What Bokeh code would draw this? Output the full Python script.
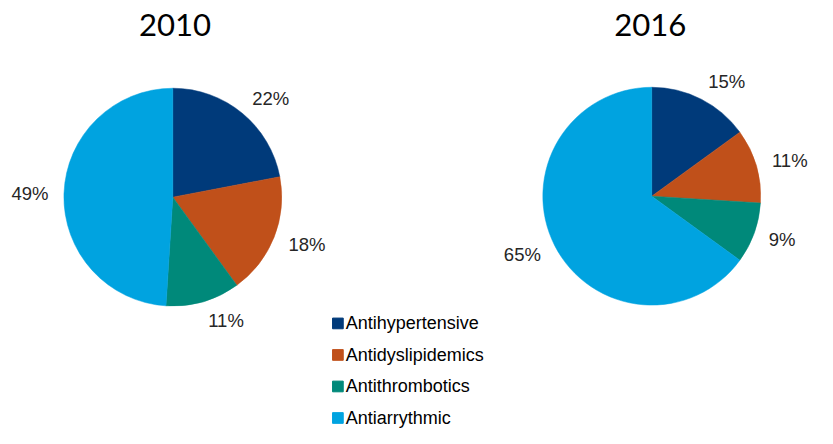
import numpy as np
from bokeh.plotting import figure
from bokeh.models import Range1d, ColumnDataSource
from bokeh.core.properties import value
from bokeh.embed import file_html
from bokeh.resources import INLINE

# ---- data ----
categories = ["Antihypertensive", "Antidyslipidemics", "Antithrombotics", "Antiarrythmic"]
years = ["2010", "2016"]
values_2010 = [22, 18, 11, 49]
values_2016 = [15, 11, 9, 65]

colors = ["#003A7A", "#C0501A", "#00897A", "#00A3E0"]

W, H = 817, 428
REF_W, REF_H = 833, 444
SX, SY = W / REF_W, H / REF_H
S = (SX + SY) / 2

p = figure(width=W, height=H, x_range=Range1d(0, W), y_range=Range1d(0, H),
           output_backend="svg", toolbar_location=None, min_border=0)
p.axis.visible = False
p.grid.visible = False
p.outline_line_color = None
p.background_fill_color = "white"
p.border_fill_color = "white"


def X(x):
    return np.asarray(x) * SX


def Y(y):
    # layout y measured from the top -> data y
    return H - np.asarray(y) * SY


R = 112 * S
label_fs = 19 * S
layout = [(years[0], values_2010, 175.7, 204, 178),
          (years[1], values_2016, 664, 203, 662.5)]

label_font = value("Liberation Sans")
for year, vals, cx, cy, tx in layout:
    v = np.array(vals, dtype=float)
    frac = v / v.sum()
    cum = np.cumsum(frac)
    start = np.concatenate([[0.0], cum[:-1]])
    src = ColumnDataSource(dict(
        start=np.pi / 2 - 2 * np.pi * start,
        end=np.pi / 2 - 2 * np.pi * cum,
        color=colors,
        cat=categories,
    ))
    p.wedge(x=float(X(cx)), y=float(Y(cy)), radius=R, start_angle="start", end_angle="end",
            direction="clock", fill_color="color", line_color="color",
            line_width=0.5, source=src)

    # data labels (outside the pie, at each slice's mid angle)
    theta = 2 * np.pi * (start + cum) / 2
    s, c = np.sin(theta), np.cos(theta)
    texts = [f"{int(x)}%" for x in vals]
    widths = np.array([label_fs * (0.556 * (len(t) - 1) + 0.889) for t in texts])
    lx = X(cx) + 128 * S * s + 0.5 * widths * np.sign(s)
    ly = Y(cy) + 132 * S * c
    p.text(x=lx, y=ly, text=texts, text_align="center", text_baseline="middle",
           text_font=label_font, text_font_size=f"{label_fs:.1f}px", text_color="#262626")

    # title
    p.text(x=[float(X(tx))], y=[float(Y(25))], text=[year], text_align="center",
           text_baseline="middle", text_font=value("Lato"),
           text_font_size=f"{32 * S:.1f}px", text_color="#000000")

# legend
leg_y = [335 + 32.7 * i for i in range(len(categories))]
p.scatter(x=[float(X(344))] * len(categories), y=list(Y(leg_y)), marker="square",
          size=11 * S, fill_color=colors, line_color=colors)
p.text(x=[float(X(352))] * len(categories), y=list(Y(leg_y)), text=categories,
       text_align="left", text_baseline="middle", text_font=label_font,
       text_font_size=f"{18.5 * S:.1f}px", text_color="#000000")

open("out.html", "w").write(file_html(p, INLINE))
